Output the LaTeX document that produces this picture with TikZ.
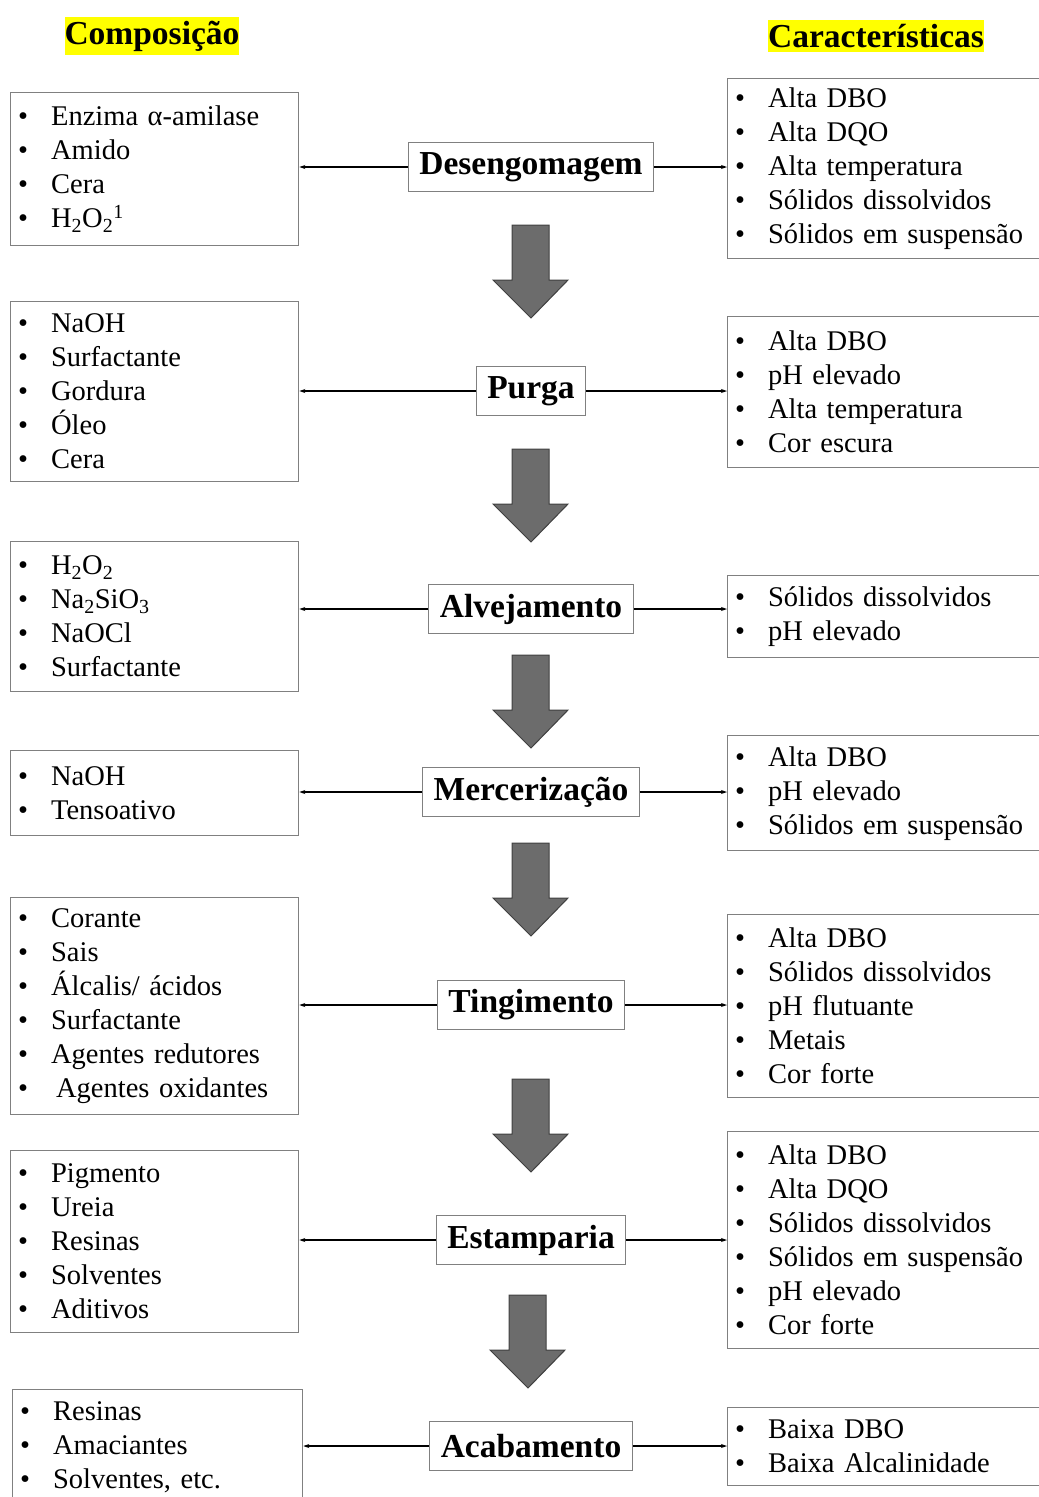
\documentclass[tikz,border=0pt]{standalone}
\usepackage{fontspec}
\setmainfont{Liberation Serif}
\definecolor{hiYellow}{RGB}{255, 255, 0}
\definecolor{boxGray}{RGB}{128, 128, 128}
\definecolor{blockGray}{RGB}{108, 108, 108}
\usetikzlibrary{arrows.meta, positioning}
\newcommand{\bul}{\makebox[33pt][l]{•}}

\tikzset{
  listbox/.style={draw=boxGray, line width=1.3pt, anchor=north west, align=left,
    inner xsep=7.5pt, inner ysep=0pt, font=\fontsize{28.5}{34}\selectfont},
  stepnode/.style={draw=boxGray, line width=1.3pt, fill=white, minimum height=49pt,
    inner xsep=11pt, font=\fontsize{33.5}{38}\selectfont\bfseries},
  header/.style={fill=hiYellow, inner xsep=0pt, inner ysep=4pt,
    font=\fontsize{33.5}{38}\selectfont\bfseries},
  link/.style={line width=1.2pt, -{Stealth[length=6pt,width=4pt]}},
  blockarrow/.style={fill=blockGray, draw=black!75, line width=1pt}
}

\begin{document}
\begin{tikzpicture}[x=1pt, y=-1pt]
  \useasboundingbox (0,0) rectangle (1039,1497);

  % Headers
  \node[header] (hcomp) at (152,36) {Composição};
  \node[header] (hcar) at (876,36) {Características};

  % Process steps
  \node[stepnode] (p1) at (531,167) {Desengomagem};
  \node[stepnode] (p2) at (531,391) {Purga};
  \node[stepnode] (p3) at (531,609) {Alvejamento};
  \node[stepnode] (p4) at (531,792) {Mercerização};
  \node[stepnode] (p5) at (531,1005) {Tingimento};
  \node[stepnode] (p6) at (531,1240) {Estamparia};
  \node[stepnode] (p7) at (531,1446) {Acabamento};

  % Composition boxes
  \node[listbox, text width=273pt, minimum width=288pt, minimum height=153pt] (c1) at (10,92)
    {\bul Enzima α-amilase\\ \bul Amido\\ \bul Cera\\ \bul H\textsubscript{2}O\textsubscript{2}\textsuperscript{1}};
  \node[listbox, text width=273pt, minimum width=288pt, minimum height=180pt] (c2) at (10,301)
    {\bul NaOH\\ \bul Surfactante\\ \bul Gordura\\ \bul Óleo\\ \bul Cera};
  \node[listbox, text width=273pt, minimum width=288pt, minimum height=150pt] (c3) at (10,541)
    {\bul H\textsubscript{2}O\textsubscript{2}\\ \bul Na\textsubscript{2}SiO\textsubscript{3}\\ \bul NaOCl\\ \bul Surfactante};
  \node[listbox, text width=273pt, minimum width=288pt, minimum height=85pt] (c4) at (10,750)
    {\bul NaOH\\ \bul Tensoativo};
  \node[listbox, text width=273pt, minimum width=288pt, minimum height=217pt] (c5) at (10,897)
    {\bul Corante\\ \bul Sais\\ \bul Álcalis/ ácidos\\ \bul Surfactante\\ \bul Agentes redutores\\ \bul\hspace{5pt}Agentes oxidantes};
  \node[listbox, text width=273pt, minimum width=288pt, minimum height=182pt] (c6) at (10,1150)
    {\bul Pigmento\\ \bul Ureia\\ \bul Resinas\\ \bul Solventes\\ \bul Aditivos};
  \node[listbox, text width=275pt, minimum width=290pt, minimum height=116pt] (c7) at (12,1389)
    {\bul Resinas\\ \bul Amaciantes\\ \bul Solventes, etc.};

  % Characteristics boxes
  \node[listbox, text width=299pt, minimum width=314pt, minimum height=180pt] (r1) at (727,78)
    {\bul Alta DBO\\ \bul Alta DQO\\ \bul Alta temperatura\\ \bul Sólidos dissolvidos\\ \bul Sólidos em suspensão};
  \node[listbox, text width=299pt, minimum width=314pt, minimum height=151pt] (r2) at (727,316)
    {\bul Alta DBO\\ \bul pH elevado\\ \bul Alta temperatura\\ \bul Cor escura};
  \node[listbox, text width=299pt, minimum width=314pt, minimum height=82pt] (r3) at (727,575)
    {\bul Sólidos dissolvidos\\ \bul pH elevado};
  \node[listbox, text width=299pt, minimum width=314pt, minimum height=115pt] (r4) at (727,735)
    {\bul Alta DBO\\ \bul pH elevado\\ \bul Sólidos em suspensão};
  \node[listbox, text width=299pt, minimum width=314pt, minimum height=183pt] (r5) at (727,914)
    {\bul Alta DBO\\ \bul Sólidos dissolvidos\\ \bul pH flutuante\\ \bul Metais\\ \bul Cor forte};
  \node[listbox, text width=299pt, minimum width=314pt, minimum height=217pt] (r6) at (727,1131)
    {\bul Alta DBO\\ \bul Alta DQO\\ \bul Sólidos dissolvidos\\ \bul Sólidos em suspensão\\ \bul pH elevado\\ \bul Cor forte};
  \node[listbox, text width=299pt, minimum width=314pt, minimum height=78pt] (r7) at (727,1407)
    {\bul Baixa DBO\\ \bul Baixa Alcalinidade};

  % Side links
  \foreach \i in {1,...,7} {
    \draw[link] (p\i.west) -- (p\i.west -| c\i.east);
    \draw[link] (p\i.east) -- (p\i.east -| r\i.west);
  }

  % Block arrows between steps
  \foreach \x/\y in {531/225, 531/449, 531/655, 531/843, 531/1079, 528/1295} {
    \draw[blockarrow] (\x-19,\y) -- (\x+18,\y) -- (\x+18,\y+55) -- (\x+37,\y+55)
      -- (\x,\y+93) -- (\x-38,\y+55) -- (\x-19,\y+55) -- cycle;
  }
\end{tikzpicture}
\end{document}
